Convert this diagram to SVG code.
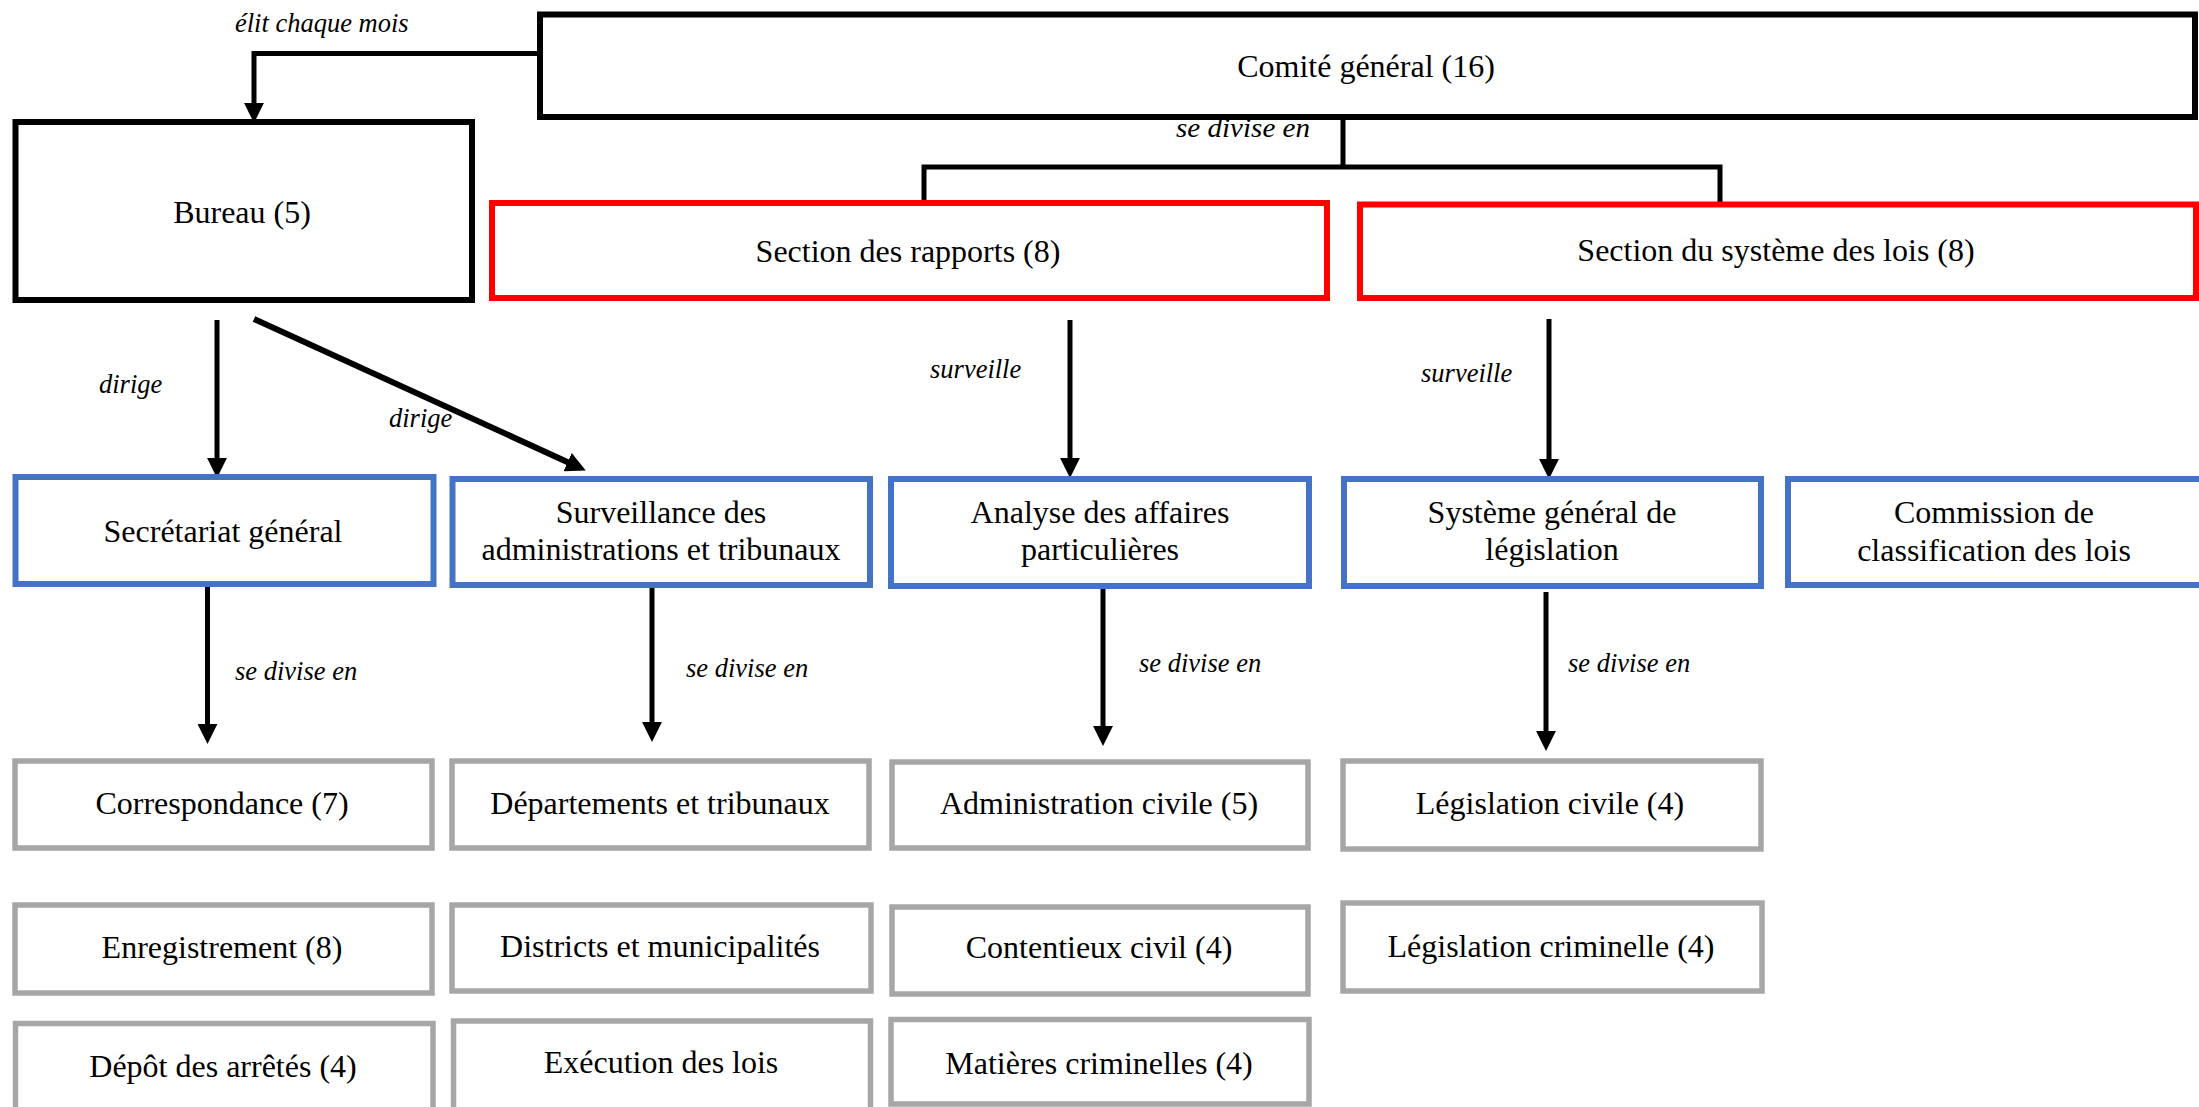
<svg xmlns="http://www.w3.org/2000/svg" width="2199" height="1107" viewBox="0 0 2199 1107">
<style>
.bg{fill:#ffffff}
.box{fill:#ffffff}
.k{stroke:#000000;stroke-width:6}
.r{stroke:#ff0000;stroke-width:6}
.b{stroke:#4472c4;stroke-width:6}
.g{stroke:#a6a6a6;stroke-width:5.5}
.t{font-family:"Liberation Serif","Times New Roman",serif;font-size:32px;fill:#000000;text-anchor:middle}
.l{font-family:"Liberation Serif","Times New Roman",serif;font-size:26.5px;font-style:italic;fill:#000000}
.c{fill:none;stroke:#000000;stroke-width:5}
</style>
<defs>
<marker id="ah" markerUnits="userSpaceOnUse" markerWidth="20" markerHeight="20" viewBox="0 0 18 18" refX="10" refY="9" orient="auto">
<path d="M0,0 L18,9 L0,18 z" fill="#000000"/>
</marker>
</defs>
<rect class="bg" x="0" y="0" width="2199" height="1107"/>

<g id="connectors">
<path class="c" d="M540,53.5 H254 V114" marker-end="url(#ah)"/>
<path class="c" d="M1343,110 V167 M924,205 V167 H1720 V205"/>
<path class="c" d="M217,320 V469" marker-end="url(#ah)"/>
<path class="c" style="stroke-width:6" d="M254,319 L577.7,466.7" marker-end="url(#ah)"/>
<path class="c" d="M207.5,587 V735" marker-end="url(#ah)"/>
<path class="c" d="M652,588 V733" marker-end="url(#ah)"/>
<path class="c" d="M1070,320 V469" marker-end="url(#ah)"/>
<path class="c" d="M1103,589 V737" marker-end="url(#ah)"/>
<path class="c" d="M1549,319 V470" marker-end="url(#ah)"/>
<path class="c" d="M1546,592 V742" marker-end="url(#ah)"/>
<text class="l" x="235" y="32">élit chaque mois</text>
<text class="l" x="1176" y="137" textLength="134" lengthAdjust="spacingAndGlyphs">se divise en</text>
<text class="l" x="99" y="393">dirige</text>
<text class="l" x="389" y="427">dirige</text>
<text class="l" x="930" y="378">surveille</text>
<text class="l" x="1421" y="382">surveille</text>
<text class="l" x="235" y="680">se divise en</text>
<text class="l" x="686" y="677">se divise en</text>
<text class="l" x="1139" y="672">se divise en</text>
<text class="l" x="1568" y="672">se divise en</text>
</g>

<g id="comite-general">
<rect class="box k" x="540" y="14.5" width="1655" height="102.5"/>
<text class="t" x="1366" y="77">Comité général (16)</text>
</g>
<g id="bureau">
<rect class="box k" x="15.5" y="122" width="456.5" height="178"/>
<text class="t" x="242" y="223">Bureau (5)</text>
</g>
<g id="section-rapports">
<rect class="box r" x="492" y="203" width="835" height="95"/>
<text class="t" x="908" y="262">Section des rapports (8)</text>
</g>
<g id="section-systeme-lois">
<rect class="box r" x="1360" y="204.5" width="836" height="93.5"/>
<text class="t" x="1776" y="261">Section du système des lois (8)</text>
</g>

<g id="secretariat-general">
<rect class="box b" x="15.5" y="477" width="418" height="107"/>
<text class="t" x="223" y="542">Secrétariat général</text>
</g>
<g id="surveillance-administrations">
<rect class="box b" x="452.5" y="479" width="417.5" height="106"/>
<text class="t" x="661" y="523">Surveillance des</text>
<text class="t" x="661" y="560">administrations et tribunaux</text>
</g>
<g id="analyse-affaires">
<rect class="box b" x="891" y="479" width="418" height="107"/>
<text class="t" x="1100" y="523">Analyse des affaires</text>
<text class="t" x="1100" y="560">particulières</text>
</g>
<g id="systeme-general-legislation">
<rect class="box b" x="1344" y="479" width="417" height="107"/>
<text class="t" x="1552" y="523">Système général de</text>
<text class="t" x="1552" y="560">législation</text>
</g>
<g id="commission-classification">
<rect class="box b" x="1788" y="479" width="420" height="106"/>
<text class="t" x="1994" y="523">Commission de</text>
<text class="t" x="1994" y="561">classification des lois</text>
</g>

<g id="correspondance">
<rect class="box g" x="15" y="761" width="417" height="87"/>
<text class="t" x="222" y="814">Correspondance (7)</text>
</g>
<g id="enregistrement">
<rect class="box g" x="15" y="905" width="417" height="88"/>
<text class="t" x="222" y="958">Enregistrement (8)</text>
</g>
<g id="depot-arretes">
<rect class="box g" x="15.5" y="1023.5" width="417.5" height="100"/>
<text class="t" x="223" y="1077">Dépôt des arrêtés (4)</text>
</g>
<g id="departements-tribunaux">
<rect class="box g" x="452" y="761" width="417" height="87"/>
<text class="t" x="660" y="814">Départements et tribunaux</text>
</g>
<g id="districts-municipalites">
<rect class="box g" x="452" y="905" width="419" height="86"/>
<text class="t" x="660" y="957">Districts et municipalités</text>
</g>
<g id="execution-lois">
<rect class="box g" x="453.5" y="1021" width="417" height="100"/>
<text class="t" x="661" y="1073">Exécution des lois</text>
</g>
<g id="administration-civile">
<rect class="box g" x="892" y="762" width="416" height="86"/>
<text class="t" x="1099" y="814">Administration civile (5)</text>
</g>
<g id="contentieux-civil">
<rect class="box g" x="892" y="907" width="416" height="87"/>
<text class="t" x="1099" y="958">Contentieux civil (4)</text>
</g>
<g id="matieres-criminelles">
<rect class="box g" x="891" y="1019.5" width="418" height="84.5"/>
<text class="t" x="1099" y="1074">Matières criminelles (4)</text>
</g>
<g id="legislation-civile">
<rect class="box g" x="1343" y="761" width="418" height="88"/>
<text class="t" x="1550" y="814">Législation civile (4)</text>
</g>
<g id="legislation-criminelle">
<rect class="box g" x="1343" y="903" width="419" height="88"/>
<text class="t" x="1551" y="957">Législation criminelle (4)</text>
</g>
</svg>
